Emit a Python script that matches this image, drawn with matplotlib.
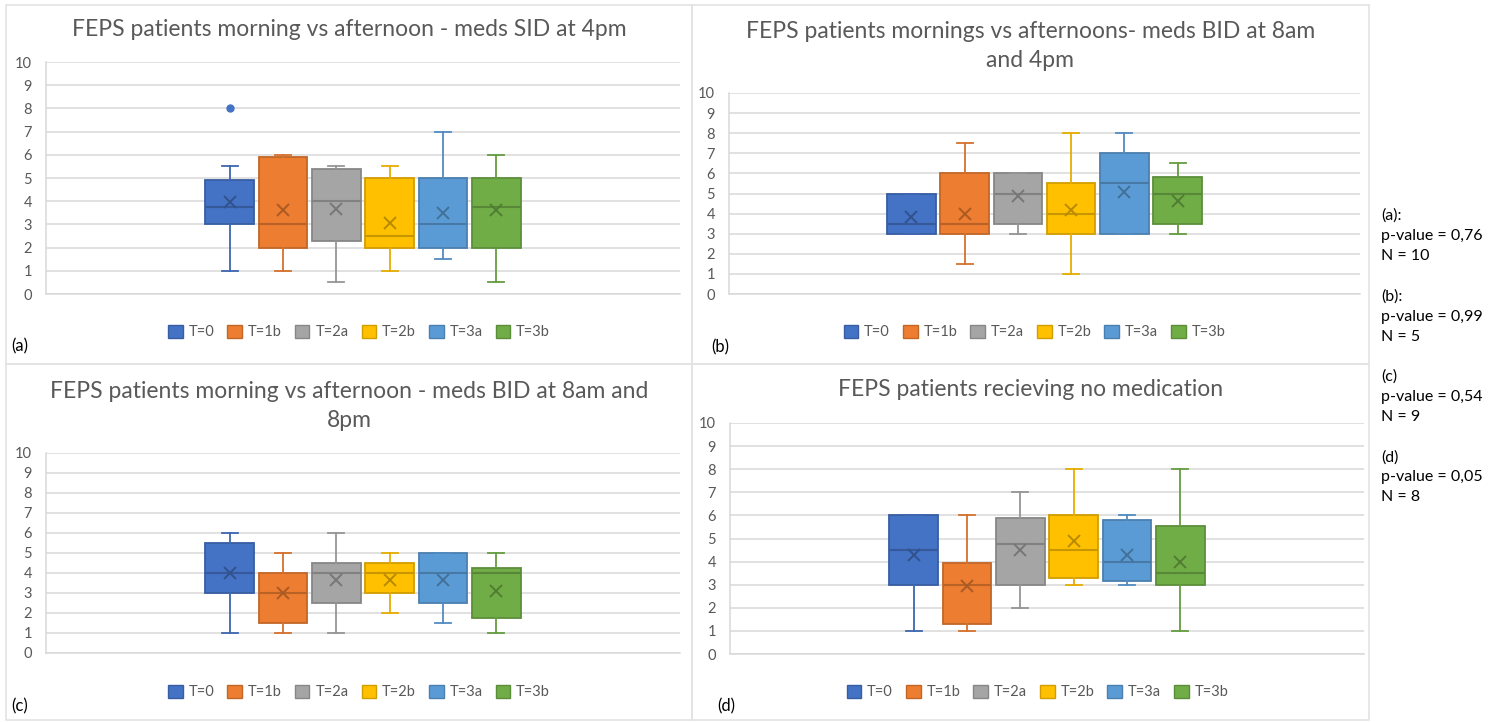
import matplotlib.pyplot as plt
from matplotlib.patches import Rectangle, Patch
import matplotlib.colors as mcolors

W, H = 1502, 722

series = ["T=0", "T=1b", "T=2a", "T=2b", "T=3a", "T=3b"]
colors = ["#4472C4", "#ED7D31", "#A5A5A5", "#FFC000", "#5B9BD5", "#70AD47"]

# (a) meds SID at 4pm
a_low = [1, 1, 0.5, 1, 1.5, 0.5]
a_q1 = [3, 2, 2.3, 2, 2, 2]
a_med = [3.75, 3, 4, 2.5, 3, 3.75]
a_q3 = [4.9, 5.9, 5.37, 5, 5, 5]
a_high = [5.5, 6, 5.5, 5.5, 7, 6]
a_mean = [3.98, 3.62, 3.68, 3.05, 3.5, 3.62]
a_out = [[8], [], [], [], [], []]

# (b) meds BID at 8am and 4pm
b_low = [3, 1.5, 3, 1, 3, 3]
b_q1 = [3, 3, 3.5, 3, 3, 3.5]
b_med = [3.5, 3.5, 5, 4, 5.5, 5]
b_q3 = [5, 6, 6, 5.5, 7, 5.8]
b_high = [5, 7.5, 6, 8, 8, 6.5]
b_mean = [3.83, 4.0, 4.9, 4.2, 5.05, 4.65]
b_out = [[], [], [], [], [], []]

# (c) meds BID at 8am and 8pm
c_low = [1, 1, 1, 2, 1.5, 1]
c_q1 = [3, 1.5, 2.5, 3, 2.5, 1.73]
c_med = [4, 3, 4, 4, 4, 4]
c_q3 = [5.5, 4, 4.5, 4.5, 5, 4.23]
c_high = [6, 5, 6, 5, 5, 5]
c_mean = [4.0, 3.0, 3.67, 3.67, 3.67, 3.08]
c_out = [[], [], [], [], [], []]

# (d) no medication
d_low = [1, 1, 2, 3, 3, 1]
d_q1 = [3, 1.3, 3, 3.27, 3.15, 3]
d_med = [4.5, 3, 4.78, 4.5, 4, 3.5]
d_q3 = [6, 3.92, 5.9, 6, 5.79, 5.55]
d_high = [6, 6, 7, 8, 6, 8]
d_mean = [4.28, 2.95, 4.5, 4.9, 4.3, 4.0]
d_out = [[], [], [], [], [], []]

titles = [
    "FEPS patients morning vs afternoon - meds SID at 4pm",
    "FEPS patients mornings vs afternoons- meds BID at 8am\nand 4pm",
    "FEPS patients morning vs afternoon - meds BID at 8am and\n8pm",
    "FEPS patients recieving no medication",
]
tags = ["(a)", "(b)", "(c)", "(d)"]
notes = [
    "(a):", "p-value = 0,76", "N = 10", "",
    "(b):", "p-value = 0,99", "N = 5", "",
    "(c)", "p-value = 0,54", "N = 9", "",
    "(d)", "p-value = 0,05", "N = 8",
]

FONT = "Lato"
GREY = "#595959"
GRID = "#d9d9d9"
STEP = 53.3   # pixels between neighbouring boxes


def shade(c, f):
    r, g, b = mcolors.to_rgb(c)
    return (r * f, g * f, b * f)


def fx(x):
    return x / W


def fy(y):
    return 1 - y / H


fig = plt.figure(figsize=(W / 100, H / 100), dpi=100)
fig.patch.set_facecolor("white")

# chart frames
frames = [(6, 5, 692, 364), (692, 5, 1369, 364), (6, 364, 692, 720), (692, 364, 1369, 720)]
for l, t, r, b in frames:
    fig.add_artist(Rectangle((fx(l), fy(b)), (r - l) / W, (b - t) / H,
                             transform=fig.transFigure, fill=False,
                             edgecolor="#e3e3e3", linewidth=1.2))

# plot areas: left, top, right, bottom in pixels
areas = [(46, 62, 680, 294), (729, 93, 1360, 294), (46, 453, 680, 653), (730, 423, 1364, 654)]
title_y = [30, 46, 406, 390]
legend_y = [332, 332, 692, 692]
legend_dx = [10, 4, 10, 7]
tag_pos = [(11, 346), (711, 347), (11, 706), (717, 706)]

data = [
    (a_low, a_q1, a_med, a_q3, a_high, a_mean, a_out),
    (b_low, b_q1, b_med, b_q3, b_high, b_mean, b_out),
    (c_low, c_q1, c_med, c_q3, c_high, c_mean, c_out),
    (d_low, d_q1, d_med, d_q3, d_high, d_mean, d_out),
]

for k in range(4):
    l, t, r, b = areas[k]
    ax = fig.add_axes([fx(l), fy(b), (r - l) / W, (b - t) / H])
    low, q1, med, q3, high, mean, out = data[k]

    for i in range(len(series)):
        st = [{"whislo": low[i], "q1": q1[i], "med": med[i], "q3": q3[i],
               "whishi": high[i], "mean": mean[i], "fliers": out[i]}]
        c = colors[i]
        ax.bxp(st, positions=[i], widths=0.91, capwidths=0.3, showmeans=True,
               patch_artist=True,
               boxprops=dict(facecolor=c, edgecolor=shade(c, 0.82), linewidth=1.3),
               medianprops=dict(color=shade(c, 0.78), linewidth=1.5),
               whiskerprops=dict(color=shade(c, 0.9), linewidth=1.3),
               capprops=dict(color=shade(c, 0.9), linewidth=1.3),
               meanprops=dict(marker="x", markeredgecolor=shade(c, 0.72),
                              markersize=8.5, markeredgewidth=1.4),
               flierprops=dict(marker="o", markerfacecolor=c, markeredgecolor=c,
                               markersize=5))

    span = (r - l) / STEP
    ax.set_xlim(2.5 - span / 2, 2.5 + span / 2)
    ax.set_ylim(0, 10)
    ax.set_yticks(range(0, 11))
    ax.set_xticks([])
    ax.grid(axis="y", color=GRID, linewidth=1.1)
    ax.set_axisbelow(True)
    for s in ["top", "right"]:
        ax.spines[s].set_visible(False)
    for s in ["left", "bottom"]:
        ax.spines[s].set_color(GRID)
        ax.spines[s].set_linewidth(1.1)
    ax.tick_params(axis="y", length=0, pad=10, labelsize=10.5, labelcolor=GREY)
    for lab in ax.get_yticklabels():
        lab.set_fontfamily(FONT)
    ax.set_facecolor("white")

    fl, ft, frr, fb = frames[k]
    cx = (fl + frr) / 2
    fig.text(fx(cx), fy(title_y[k]), titles[k], ha="center", va="center",
             fontsize=16.5, color=GREY, family=FONT, linespacing=1.5)

    handles = [Patch(facecolor=colors[i], edgecolor=shade(colors[i], 0.82),
                     label=series[i]) for i in range(len(series))]
    fig.legend(handles=handles, loc="center",
               bbox_to_anchor=(fx(cx + legend_dx[k]), fy(legend_y[k])),
               ncol=6, frameon=False, handlelength=1.0, handleheight=1.0,
               handletextpad=0.4, columnspacing=0.9,
               prop={"family": FONT, "size": 10.5}, labelcolor=GREY)

    tx, ty = tag_pos[k]
    fig.text(fx(tx), fy(ty), tags[k], ha="left", va="center", fontsize=12,
             color="black", family=FONT)

# test results on the right
for j, line in enumerate(notes):
    if line:
        fig.text(fx(1381), fy(216 + 20.1 * j), line, ha="left", va="center",
                 fontsize=11.5, color="black", family=FONT)

fig.savefig("out.png", dpi=100, facecolor="white")
